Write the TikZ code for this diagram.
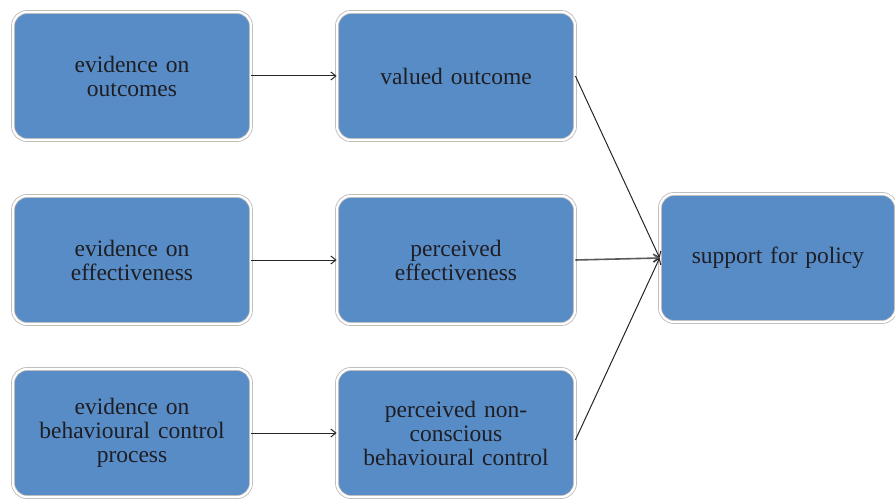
\documentclass[tikz,border=0pt]{standalone}
\usepackage{fontspec}
\setmainfont{Liberation Serif}
\usetikzlibrary{arrows.meta,positioning}
\definecolor{boxblue}{RGB}{88,140,198}
\definecolor{boxtext}{RGB}{30,30,36}

\begin{document}
\begin{tikzpicture}[x=1pt,y=-1pt,>={Straight Barb[length=5pt,width=8pt]},thick]
  \tikzset{
    box/.style={rounded corners=14pt,fill=boxblue,draw=black!28,double=white,double distance=2.2pt,
      minimum width=238pt,minimum height=128pt,text width=220pt,align=center,text=boxtext,
      font=\fontsize{23.5}{24}\selectfont},
    link/.style={->,black!85,line width=1pt}
  }
  \useasboundingbox (0,0) rectangle (895,503);

  % Evidence column
  \node[box] (evout) at (132,76) {evidence on\\outcomes};
  \node[box] (eveff) at (132,260) {evidence on\\effectiveness};
  \node[box] (evbeh) at (132,433) {evidence on\\behavioural control\\process};

  % Perceptions column
  \node[box] (valued) at (456,76) {valued outcome};
  \node[box] (pereff) at (456,260) {perceived\\effectiveness};
  \node[box] (perbeh) at (456,433) {perceived non-\\conscious\\behavioural control};

  % Outcome
  \node[box,minimum width=236pt] (support) at (778,258) {support for policy};

  % Links
  \draw[link] (evout) -- (valued);
  \draw[link] (eveff) -- (pereff);
  \draw[link] (evbeh) -- (perbeh);
  \draw[link] (valued.east) -- (support.west);
  \draw[link,black!65,line width=1.6pt] (pereff.east) -- (support.west);
  \draw[link] ([yshift=-7pt]perbeh.east) -- (support.west);
\end{tikzpicture}
\end{document}
